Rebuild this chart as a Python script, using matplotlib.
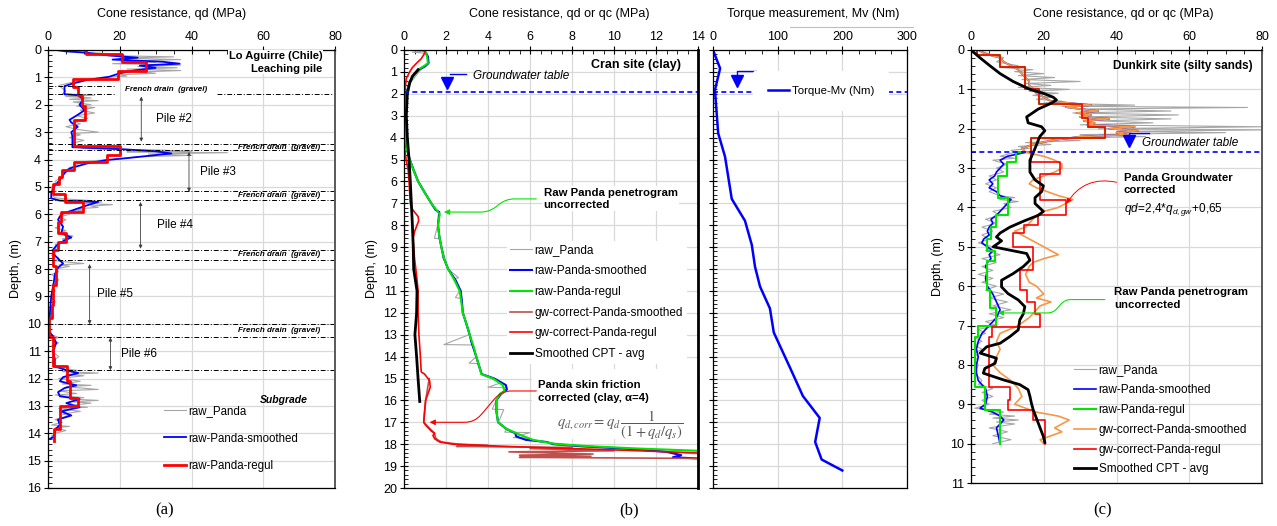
import matplotlib.pyplot as plt
from matplotlib.ticker import MultipleLocator
from matplotlib.lines import Line2D
from matplotlib.patches import Rectangle

plt.rcParams['font.family'] = ['Liberation Sans', 'DejaVu Sans']
plt.rcParams['mathtext.fontset'] = 'custom'
plt.rcParams['mathtext.rm'] = 'Liberation Sans'
plt.rcParams['mathtext.it'] = 'Liberation Sans:italic'
plt.rcParams['mathtext.bf'] = 'Liberation Sans:bold'

GRAY = '#a6a6a6'
BLUE = '#0000ff'
RED = '#ff0000'
GREEN = '#00e600'
BROWN = '#c0504d'
ORANGE = '#f79646'

# ---------------- (a) Lo Aguirre, leaching pile ----------------
a_raw_depth = [0.0, 0.05, 0.1, 0.15, 0.2, 0.25, 0.3, 0.35, 0.4, 0.45, 0.5, 0.55, 0.6, 0.65, 0.7, 0.75, 0.8, 0.85, 0.9, 0.95,
               1.0, 1.05, 1.1, 1.15, 1.2, 1.3, 1.4, 1.5, 1.6, 1.65, 1.7, 1.75, 1.8, 1.85, 1.9, 2.0, 2.05, 2.1, 2.2, 2.3,
               2.4, 2.5, 2.6, 2.7, 2.8, 2.9, 3.0, 3.05, 3.1, 3.2, 3.3, 3.4, 3.5, 3.6, 3.65, 3.7, 3.72, 3.75, 3.8, 3.85,
               3.9, 3.95, 4.0, 4.05, 4.1, 4.2, 4.3, 4.4, 4.5, 4.6, 4.7, 4.8, 4.9, 5.0, 5.1, 5.2, 5.3, 5.4, 5.45, 5.5,
               5.55, 5.6, 5.65, 5.7, 5.75, 5.8, 5.85, 5.9, 6.0, 6.1, 6.2, 6.3, 6.4, 6.5, 6.6, 6.7, 6.8, 6.9, 7.0, 7.1,
               7.2, 7.3, 7.4, 7.5, 7.6, 7.7, 7.8, 7.85, 7.9, 8.0, 8.1, 8.2, 8.4, 8.6, 8.8, 9.0, 9.2, 9.4, 9.6, 9.8,
               10.0, 10.2, 10.4, 10.5, 10.6, 10.7, 10.8, 10.9, 11.0, 11.2, 11.4, 11.6, 11.7, 11.75, 11.8, 11.85, 11.9,
               12.0, 12.1, 12.2, 12.25, 12.3, 12.4, 12.45, 12.55, 12.6, 12.7, 12.75, 12.8, 12.85, 12.9, 13.0, 13.05,
               13.1, 13.2, 13.3, 13.35, 13.5, 13.6, 13.7, 13.75, 13.8, 13.9, 14.0, 14.1, 14.2]
a_raw_qd = [2, 8, 12, 20, 15, 35, 20, 37, 22, 30, 18, 37, 25, 36, 22, 37, 26, 30, 20, 22,
            15, 12, 10, 8, 6, 3, 4, 5, 4, 13, 5, 12, 6, 14, 7, 12, 8, 13, 9, 13,
            8, 11, 7, 9, 5, 8, 14, 7, 9, 6, 10, 7, 7, 10, 30, 40, 22, 50, 28, 40,
            25, 22, 18, 12, 9, 8, 6, 5, 4, 4, 3, 2, 2, 1, 1, 1, 1, 2, 6, 12,
            15, 10, 18, 12, 14, 8, 10, 5, 6, 3, 5, 3, 4, 2, 5, 3, 7, 4, 5, 2,
            3, 1, 2, 1, 3, 2, 10, 3, 6, 2, 3, 1, 3, 1, 2, 1, 2, 1, 1, 0.5,
            0.3, 0.5, 1, 3, 1, 3, 1, 2, 1, 3, 1, 2, 8, 4, 14, 5, 10,
            3, 9, 4, 12, 5, 14, 3, 8, 2, 10, 6, 14, 7, 12, 5, 11,
            3, 9, 4, 6, 2, 4, 1, 6, 2, 5, 2, 1, 1]
a_smooth_depth = [0, 0.05, 0.1, 0.2, 0.28, 0.35, 0.43, 0.5, 0.57, 0.65, 0.75, 0.85, 0.98, 1.1, 1.22, 1.32, 1.62, 1.65,
                  1.8, 2.0, 2.2, 2.4, 2.55, 2.65, 2.8, 3.0, 3.15, 3.55, 3.62, 3.7, 3.78, 3.9, 3.95, 4.02, 4.15, 4.33,
                  4.5, 4.75, 4.95, 5.25, 5.42, 5.5, 5.55, 5.72, 5.85, 6.0, 6.2, 6.45, 6.7, 6.85, 6.95, 7.15, 7.3, 7.5,
                  7.8, 7.95, 8.2, 8.5, 9.0, 9.5, 10.0, 10.3, 10.45, 10.7, 11.0, 11.3, 11.55, 11.7, 11.8, 11.95, 12.1,
                  12.25, 12.35, 12.5, 12.65, 12.75, 12.9, 13.05, 13.2, 13.35, 13.5, 13.7, 13.85, 14.0, 14.15, 14.2]
a_smooth_qd = [2.3, 5, 10.7, 17, 25, 18, 32, 36.7, 25.6, 30, 24, 20, 17, 10.7, 7, 4.6, 4.6, 8.4,
               9.8, 8.8, 10.2, 7.9, 6.0, 6.5, 8.3, 6.5, 6.8, 6.8, 20, 30, 34.4, 25.6, 21.9, 16.3, 10.7, 6.0,
               4.6, 3.3, 1.9, 0.9, 0.9, 3.3, 14, 9.8, 7, 3.7, 2.8, 4.2, 3.7, 6.5, 4.6, 2.3, 1.4, 1.9,
               4.2, 2.8, 1.9, 1.6, 0.9, 0.6, 0.3, 0.3, 1.4, 2.3, 1.4, 1.9, 1.9, 5.1, 8.4, 4.2, 3.3,
               7.9, 4.6, 2.8, 3.3, 8.8, 5.1, 8.8, 3.7, 6.5, 2.8, 3.3, 2.1, 1.9, 1.4, 0.5]
a_regul_bounds = [0, 0.15, 0.45, 0.75, 1.05, 1.35, 1.65, 2.05, 2.55, 3.5, 3.85, 4.1, 4.4, 4.65, 4.9, 5.25, 5.55,
                  5.9, 6.3, 6.7, 7.0, 7.3, 7.9, 8.6, 9.3, 9.8, 10.5, 11.55, 12.1, 12.7, 13.0, 13.85, 14.3]
a_regul_qd = [10.5, 20.7, 27.4, 19.5, 7.0, 8.4, 9.5, 10.2, 7.2, 20.0, 16.5, 7.2, 4.0, 3.1, 1.5, 4.7,
              9.8, 3.7, 2.8, 5.1, 2.8, 1.4, 2.3, 1.5, 1.0, 0.4, 1.5, 5.3, 6.0, 8.4, 3.3, 1.6]
a_drain_top = [1.32, 3.44, 5.15, 7.29, 10.02]
a_drain_bot = [1.59, 3.66, 5.49, 7.67, 10.48]
a_subgrade_top = 11.7
a_pile_names = ['Pile #2', 'Pile #3', 'Pile #4', 'Pile #5', 'Pile #6']
a_pile_from = [1.7, 3.72, 5.55, 7.82, 10.5]
a_pile_to = [3.35, 5.18, 7.26, 10.02, 11.7]

# ---------------- (b) Cran site, clay ----------------
b_raw_depth = [0, 0.05, 0.1, 0.15, 0.3, 0.6, 0.9, 1.5, 2, 3, 4, 4.5, 5, 5.5, 6, 6.5, 7, 7.5, 8, 8.6, 8.62, 9, 9.5,
               10, 10.4, 10.45, 11, 11.3, 11.35, 12, 12.5, 13, 13.45, 13.47, 14, 14.3, 14.32, 14.8, 15.2, 15.4,
               15.42, 15.6, 16, 16.4, 16.42, 17, 17.3, 17.45, 17.47, 17.6, 17.7, 17.72, 17.9, 18.1, 18.3, 18.45]
b_raw_qd = [0.5, 1.0, 0.4, 1.1, 1.1, 1.15, 0.8, 0.3, 0.1, 0.05, 0.08, 0.15, 0.3, 0.5, 0.7, 1.0, 1.3, 1.7, 1.6, 1.45,
            1.7, 1.78, 1.85, 2.1, 2.6, 2.35, 2.65, 2.45, 2.7, 2.8, 2.95, 3.1, 1.9, 3.3, 3.45, 3.1, 3.5, 3.7, 4.6,
            4.0, 4.9, 4.8, 4.4, 4.2, 4.75, 4.5, 4.9, 4.8, 6.0, 5.5, 5.2, 5.8, 6.5, 9.0, 12.0, 14.0]
b_smooth_depth = [0, 0.3, 0.6, 0.75, 0.9, 1.2, 1.5, 2.0, 3.0, 4.0, 4.5, 5.0, 5.5, 6.0, 6.5, 7.0, 7.3, 7.4, 8.0, 8.5,
                  9.0, 9.5, 10.0, 10.5, 11.0, 11.5, 12.0, 12.5, 13.0, 13.3, 14.0, 14.5, 14.8, 15.0, 15.3, 15.5,
                  15.7, 16.0, 16.5, 17.0, 17.3, 17.5, 17.65, 17.8, 17.9, 18.0, 18.1, 18.2, 18.35, 18.5, 18.6, 18.65]
b_smooth_qd = [0.95, 1.14, 1.17, 1.0, 0.7, 0.42, 0.27, 0.1, 0.06, 0.06, 0.13, 0.27, 0.46, 0.67, 0.98, 1.3, 1.5, 1.68,
               1.62, 1.68, 1.78, 1.9, 2.1, 2.45, 2.7, 2.76, 2.8, 2.97, 3.13, 3.2, 3.44, 3.6, 3.7, 4.3, 4.85, 4.9,
               4.6, 4.4, 4.4, 4.48, 4.87, 5.3, 5.35, 5.8, 6.8, 7.1, 8.5, 10.5, 12.5, 13.2, 12.8, 14.0]
b_regul_depth = [0, 0.3, 0.6, 0.7, 0.85, 1.2, 1.5, 2.0, 3.0, 4.0, 4.5, 5.0, 5.5, 6.0, 6.5, 7.0, 7.3, 7.5, 8.0, 8.5,
                 9.0, 9.5, 10.0, 10.5, 11.0, 11.5, 12.0, 12.5, 13.0, 13.5, 14.0, 14.5, 14.8, 15.0, 15.3, 15.6, 15.7,
                 16.0, 16.5, 17.0, 17.3, 17.6, 17.8, 18.0, 18.1, 18.2, 18.3]
b_regul_qd = [0.98, 1.1, 1.14, 1.0, 0.75, 0.43, 0.27, 0.11, 0.06, 0.06, 0.13, 0.27, 0.46, 0.67, 0.98, 1.3, 1.54, 1.7,
              1.62, 1.68, 1.78, 1.9, 2.1, 2.4, 2.65, 2.73, 2.8, 2.97, 3.13, 3.3, 3.44, 3.6, 3.68, 4.24, 4.7, 4.8, 4.56,
              4.4, 4.4, 4.48, 4.87, 5.6, 6.14, 7.25, 9.0, 11.2, 14.0]
b_gwsmooth_depth = [15.0, 16.0, 17.0, 17.5, 17.7, 17.8, 17.9, 18.0, 18.05, 18.1, 18.15, 18.2, 18.3, 18.35, 18.45,
                    18.5, 18.55, 18.6, 18.65]
b_gwsmooth_qd = [1.2, 1.03, 0.94, 1.45, 1.5, 1.6, 1.8, 2.6, 4.0, 2.5, 8.0, 6.0, 10.0, 5.0, 9.0, 5.5, 8.9, 5.5, 14.0]
b_gwregul_depth = [0, 0.2, 0.4, 0.6, 0.8, 1.0, 1.3, 1.8, 2.5, 3.5, 4.0, 4.5, 5.0, 5.5, 6.0, 6.5, 7.0, 7.2, 7.4, 7.6,
                   7.8, 8.0, 8.3, 8.6, 9.0, 9.5, 9.9, 10.5, 11.0, 12.0, 13.0, 14.0, 14.7, 14.8, 15.1, 15.4, 15.7,
                   16.0, 16.5, 17.0, 17.15, 17.4, 17.5, 17.6, 17.75, 17.9, 18.0, 18.1, 18.2, 18.3, 18.4]
b_gwregul_qd = [1.03, 0.95, 0.82, 0.6, 0.4, 0.27, 0.11, 0.05, 0.03, 0.0, 0.0, 0.03, 0.1, 0.2, 0.24, 0.27, 0.3, 0.35,
                0.5, 0.67, 0.7, 0.62, 0.5, 0.43, 0.46, 0.5, 0.55, 0.62, 0.67, 0.67, 0.71, 0.78, 0.82, 0.98, 1.22,
                1.25, 1.14, 1.03, 0.98, 0.94, 1.05, 1.3, 1.46, 1.38, 1.46, 1.7, 2.33, 4.87, 8.05, 11.2, 14.0]
b_cpt_depth = [0.9, 1.2, 1.5, 2.0, 3.0, 4.0, 5.0, 6.0, 7.0, 8.0, 9.0, 10.0, 11.0, 12.0, 13.0, 14.0, 15.0, 16.05]
b_cpt_qc = [0.67, 0.4, 0.27, 0.16, 0.11, 0.16, 0.24, 0.3, 0.35, 0.4, 0.44, 0.46, 0.62, 0.6, 0.52, 0.6, 0.67, 0.75]
b_gw_depth = 1.93

# torque measurement (Cran)
t_depth = [0, 0.84, 1.83, 3.8, 4.87, 6.8, 7.8, 8.9, 9.9, 10.8, 11.8, 12.9, 14.5, 15.8, 16.8, 17.9, 18.7, 19.2]
t_mv = [0, 11, 3, 8, 18.6, 29, 49.5, 60, 65, 72.7, 88, 94, 119, 139, 165, 158, 168, 200]

# ---------------- (c) Dunkirk site, silty sands ----------------
c_raw_depth = [0, 0.1, 0.2, 0.3, 0.4, 0.45, 0.5, 0.55, 0.6, 0.65, 0.7, 0.75, 0.8, 0.85, 0.9, 0.95, 1.0, 1.05, 1.1,
               1.15, 1.2, 1.25, 1.3, 1.35, 1.4, 1.43, 1.46, 1.5, 1.55, 1.6, 1.65, 1.7, 1.75, 1.8, 1.85, 1.9, 1.95,
               2.0, 2.03, 2.07, 2.1, 2.15, 2.2, 2.25, 2.3, 2.35, 2.4, 2.45, 2.5, 2.55, 2.6, 2.7, 2.75, 2.8, 2.9,
               3.0, 3.1, 3.2, 3.3, 3.4, 3.5, 3.6, 3.7, 3.75, 3.8, 3.85, 3.9, 4.0, 4.1, 4.2, 4.3, 4.4, 4.5, 4.6,
               4.7, 4.8, 4.9, 5.0, 5.1, 5.2, 5.3, 5.4, 5.5, 5.6, 5.7, 5.8, 5.9, 6.0, 6.1, 6.2, 6.3, 6.4, 6.5, 6.6,
               6.7, 6.8, 6.9, 7.0, 7.1, 7.2, 7.3, 7.4, 7.5, 7.6, 7.7, 7.8, 7.9, 8.0, 8.2, 8.4, 8.5, 8.6, 8.7, 8.8,
               8.9, 9.0, 9.1, 9.2, 9.25, 9.3, 9.35, 9.4, 9.45, 9.5, 9.6, 9.7, 9.8, 9.9, 10.0]
c_raw_qd = [2, 5, 9, 7, 13, 9, 17, 12, 20, 13, 23, 14, 30, 15, 22, 13, 27, 16, 24,
            17, 22, 18, 25, 20, 45, 25, 76, 30, 55, 28, 57, 30, 55, 35, 50, 30, 80,
            35, 80, 40, 70, 30, 48, 20, 30, 15, 22, 13, 16, 11, 12, 8, 12, 6, 10,
            7, 9, 5, 7, 4, 7, 5, 8, 12, 8, 13, 9, 11, 6, 8, 4, 7, 3, 6,
            3, 5, 2, 6, 4, 8, 3, 7, 3, 6, 2, 6, 3, 7, 4, 9, 5, 10, 6, 11,
            5, 9, 4, 7, 2, 4, 1, 3, 1, 3, 1, 2, 1, 2, 1, 3, 2, 6, 3, 6,
            3, 5, 1, 9, 5, 12, 6, 13, 7, 12, 5, 10, 6, 11, 6]
# smoothed profile above the water table (raw and corrected coincide there)
c_smooth_up_depth = [0, 0.1, 0.2, 0.3, 0.4, 0.5, 0.6, 0.7, 0.8, 0.9, 1.0, 1.1, 1.2, 1.3, 1.4, 1.45, 1.5, 1.55, 1.6,
                     1.65, 1.7, 1.75, 1.8, 1.85, 1.9, 1.95, 2.0, 2.05, 2.1, 2.15, 2.2, 2.3, 2.4, 2.5, 2.6]
c_smooth_up_qd = [2, 4, 8, 9, 11, 13, 14, 15, 16, 16, 17, 18, 20, 22, 33, 26, 30, 35, 29,
                  33, 30, 38, 31, 34, 32, 45, 38, 46, 40, 43, 30, 22, 17, 14, 15]
c_gwsmooth_low_depth = [2.7, 2.8, 2.9, 3.0, 3.1, 3.2, 3.3, 3.4, 3.5, 3.6, 3.7, 3.8, 3.9, 4.0, 4.1, 4.2, 4.3, 4.4,
                        4.5, 4.6, 4.7, 4.8, 4.9, 5.0, 5.1, 5.2, 5.3, 5.4, 5.5, 5.7, 5.9, 6.0, 6.2, 6.3, 6.4, 6.5,
                        6.6, 6.8, 7.0, 7.2, 7.4, 7.6, 7.8, 8.0, 8.2, 8.4, 8.6, 8.8, 9.0, 9.2, 9.3, 9.4, 9.5, 9.6,
                        9.7, 9.8, 9.9, 10.0]
c_gwsmooth_low_qd = [20, 23, 25, 25, 23, 20, 17, 16, 18, 21, 24, 28, 26, 24, 20, 18, 17, 16,
                     15, 12, 14, 16, 18, 20, 22, 24, 20, 17, 16, 15, 16, 18, 20, 18, 22, 19,
                     18, 16, 13, 8, 7, 8, 7, 6, 8, 11, 13, 14, 12, 18, 24, 27, 25, 23,
                     25, 22, 19, 20]
c_smooth_low_depth = [2.7, 2.8, 2.9, 3.0, 3.1, 3.2, 3.3, 3.4, 3.5, 3.6, 3.7, 3.8, 3.9, 4.0, 4.1, 4.2, 4.3, 4.4, 4.5,
                      4.6, 4.7, 4.8, 4.9, 5.0, 5.1, 5.2, 5.3, 5.4, 5.5, 5.6, 5.8, 6.0, 6.2, 6.4, 6.6, 6.8, 7.0, 7.2,
                      7.4, 7.6, 7.8, 8.0, 8.2, 8.4, 8.6, 8.8, 9.0, 9.1, 9.2, 9.3, 9.4, 9.5, 9.6, 9.8, 10.0]
c_smooth_low_qd = [10, 8, 9, 8, 7, 6.5, 5, 6, 5, 7, 8, 11, 10, 9, 8, 7, 5.5, 6, 5,
                   4.5, 5, 3.5, 3, 4.5, 6, 5, 5.5, 4.5, 4, 4.5, 4, 4.5, 6, 7, 8, 7, 5, 3,
                   2, 1.5, 2, 1.5, 1.5, 2, 4, 4.5, 4, 2.5, 6, 8, 9, 8, 7, 7.5, 8]
c_gwregul_bounds = [0, 0.13, 0.43, 1.0, 1.36, 1.74, 1.96, 2.24, 2.85, 3.15, 3.8, 4.2, 4.45, 4.65, 5.0, 5.6, 6.1,
                    6.4, 6.7, 7.03, 7.3, 8.55, 8.9, 9.15, 9.4, 10.0]
c_gwregul_qd = [1.6, 8.0, 14.8, 18.6, 30.6, 32.2, 36.9, 16.5, 24.5, 19.0, 26.0, 18.5, 14.5, 11.6, 17.1, 13.4,
                15.3, 17.6, 19.0, 5.7, 5.0, 10.7, 10.2, 17.1, 20.3]
c_regul_bounds = [0, 0.13, 0.43, 1.0, 1.36, 1.74, 1.96, 2.24, 2.6, 2.85, 3.2, 3.75, 4.2, 4.5, 4.8, 5.1, 5.35, 6.1,
                  6.55, 7.0, 7.3, 8.55, 9.15, 10.0]
c_regul_qd = [1.6, 8.0, 14.8, 18.6, 30.6, 32.2, 36.9, 16.5, 12.5, 9.8, 7.5, 10.2, 7.0, 5.5, 4.3, 6.6, 4.3, 5.2,
              7.0, 2.0, 1.2, 3.8, 8.0]
c_cpt_depth = [0, 0.2, 0.4, 0.6, 0.8, 1.0, 1.1, 1.2, 1.27, 1.35, 1.5, 1.7, 1.85, 1.95, 2.05, 2.2, 2.5, 2.8, 3.1,
               3.3, 3.45, 3.6, 3.75, 3.9, 4.1, 4.2, 4.35, 4.5, 4.65, 4.75, 4.85, 5.0, 5.17, 5.34, 5.5, 5.68, 5.85,
               6.02, 6.19, 6.35, 6.52, 6.7, 6.86, 7.11, 7.28, 7.45, 7.54, 7.7, 7.83, 7.96, 8.09, 8.21, 8.38, 8.5,
               8.63, 8.8, 8.97, 9.14, 9.48, 9.82, 9.97]
c_cpt_qc = [0, 2.5, 5.2, 8, 11.6, 16.2, 19.9, 22.6, 23.5, 22.1, 18.5, 15.3, 15.7, 19.4, 20.3, 18.9, 17.6, 16.2, 16.2,
            17.6, 19.9, 19.4, 17.6, 17.6, 19.9, 18.5, 14.4, 10.7, 8, 7, 8.4, 6.1, 15.3, 16.2, 14.4, 11.6, 8.4,
            8.4, 10.2, 13, 14.8, 14.4, 13.4, 13.0, 10.7, 8, 4.3, 2.5, 7, 6.6, 3.8, 3.4, 8.9, 13.4,
            15.7, 16.2, 16.6, 17.1, 18.5, 19.9, 20.3]
c_gw_depth = 2.59


def steps(bounds, vals):
    xs, ys = [], []
    for i, v in enumerate(vals):
        xs += [v, v]
        ys += [bounds[i], bounds[i + 1]]
    return xs, ys


def frame(ax, xmax, xmaj, xmin, ymax, xlabel, label_x, ylabels=True):
    ax.set_xlim(0, xmax)
    ax.set_ylim(ymax, 0)
    ax.xaxis.set_label_position('top')
    ax.set_xlabel(xlabel, fontsize=9)
    ax.xaxis.set_label_coords(label_x, 1 + 36 / 438)
    ax.xaxis.label.set_va('center')
    ax.xaxis.set_major_locator(MultipleLocator(xmaj))
    ax.xaxis.set_minor_locator(MultipleLocator(xmin))
    ax.yaxis.set_major_locator(MultipleLocator(1))
    ax.yaxis.set_minor_locator(MultipleLocator(0.2))
    ax.tick_params(which='both', top=True, bottom=False, labeltop=True, labelbottom=False,
                   left=True, right=False, labelleft=ylabels)
    ax.tick_params(which='major', direction='inout', length=6, width=0.8, labelsize=9, pad=2)
    ax.tick_params(which='minor', direction='in', length=3, width=0.6)
    ax.grid(True, which='major', color='#d9d9d9', lw=0.9)
    ax.set_axisbelow(True)
    for s in ax.spines.values():
        s.set_linewidth(0.9)
    ax.spines['right'].set_color('#595959')
    ax.spines['right'].set_linewidth(1.4)
    if ylabels:
        ax.set_ylabel('Depth, (m)', fontsize=9, labelpad=4)


W, H = 1277, 526
fig = plt.figure(figsize=(W / 100, H / 100), dpi=100)
ax_a = fig.add_axes([48 / W, 1 - 488 / H, 287 / W, 438 / H])
ax_b = fig.add_axes([404 / W, 1 - 488 / H, 294 / W, 438 / H])
ax_t = fig.add_axes([713 / W, 1 - 488 / H, 194 / W, 438 / H])
ax_c = fig.add_axes([971 / W, 1 - 483 / H, 291 / W, 433 / H])

# ---------- (a) ----------
ax = ax_a
frame(ax, 80, 20, 5, 16, 'Cone resistance, qd (MPa)', 0.43)
ax.plot(a_raw_qd, a_raw_depth, color=GRAY, lw=0.8, label='raw_Panda')
ax.plot(a_smooth_qd, a_smooth_depth, color=BLUE, lw=1.3, label='raw-Panda-smoothed')
xs, ys = steps(a_regul_bounds, a_regul_qd)
ax.plot(xs, ys, color=RED, lw=2, label='raw-Panda-regul')
ls = (0, (5, 2, 1, 2))
for i, (top, bot) in enumerate(zip(a_drain_top, a_drain_bot)):
    if i == 0:
        ax.plot([0, 18.6], [top, top], color='k', lw=0.7, ls=ls)
        ax.plot([0, 18.6], [bot, bot], color='k', lw=0.7, ls=ls)
        ax.plot([47, 80], [bot, bot], color='k', lw=0.7, ls=ls)
        ax.text(33, (top + bot) / 2, 'French drain  (gravel)', fontsize=5.8, weight='bold', style='italic',
                ha='center', va='center')
    else:
        ax.plot([0, 80], [top, top], color='k', lw=0.7, ls=ls)
        ax.plot([0, 80], [bot, bot], color='k', lw=0.7, ls=ls)
        ax.text(64.5, (top + bot) / 2, 'French drain  (gravel)', fontsize=5.8, weight='bold', style='italic',
                ha='center', va='center')
ax.plot([0, 80], [a_subgrade_top, a_subgrade_top], color='k', lw=0.7, ls=ls)
pile_x = [26, 39.3, 25.8, 11.6, 17.4]
pile_lab_x = [35, 47.4, 35.3, 18.8, 25.3]
for name, d0, d1, px, lx in zip(a_pile_names, a_pile_from, a_pile_to, pile_x, pile_lab_x):
    ax.annotate('', xy=(px, d1), xytext=(px, d0),
                arrowprops=dict(arrowstyle='<|-|>', color='#404040', lw=0.6, mutation_scale=5,
                                shrinkA=0, shrinkB=0))
    ax.text(lx, (d0 + d1) / 2, name, fontsize=8.5, ha='center', va='center')
ax.text(76.5, 0.45, 'Lo Aguirre (Chile)\nLeaching pile', fontsize=8, weight='bold', ha='right', va='center',
        linespacing=1.3, bbox=dict(facecolor='white', edgecolor='none', pad=0.5))
ax.text(65.8, 12.8, 'Subgrade', fontsize=7.5, weight='bold', style='italic', ha='center', va='center')
ax.legend(loc='center left', bbox_to_anchor=(0.405, 0.113), frameon=False, fontsize=8.3, handlelength=1.9,
          handletextpad=0.2, labelspacing=1.32, borderpad=0, borderaxespad=0)

# ---------- (b) ----------
ax = ax_b
frame(ax, 14, 2, 0.5, 20, 'Cone resistance, qd or qc (MPa)', 0.527)
ax.spines['right'].set_color('k')
ax.spines['right'].set_linewidth(2)
ax.add_patch(Rectangle((6.1, 14.55), 7.85, 3.2, facecolor='white', edgecolor='none', zorder=1))
ax.plot(b_raw_qd, b_raw_depth, color=GRAY, lw=0.8, label='raw_Panda', zorder=2)
ax.plot(b_smooth_qd, b_smooth_depth, color=BLUE, lw=1.5, label='raw-Panda-smoothed', zorder=2)
ax.plot(b_regul_qd, b_regul_depth, color=GREEN, lw=1.5, label='raw-Panda-regul', zorder=2)
ax.plot(b_gwsmooth_qd, b_gwsmooth_depth, color=BROWN, lw=1.2, label='gw-correct-Panda-smoothed', zorder=2)
ax.plot(b_gwregul_qd, b_gwregul_depth, color=RED, lw=1.2, label='gw-correct-Panda-regul', zorder=2)
ax.plot(b_cpt_qc, b_cpt_depth, color='k', lw=2, label='Smoothed CPT - avg', zorder=2)
ax.axhline(b_gw_depth, color=BLUE, lw=1.2, ls=(0, (3, 2)), zorder=2)
ax.plot([2.05], [1.5], marker='v', ms=9, color=BLUE, zorder=3)
ax.plot([2.2, 2.95], [1.08, 1.08], color=BLUE, lw=1)
ax.text(3.3, 1.18, 'Groundwater table', fontsize=8.5, style='italic', va='center')
ax.text(13.2, 0.68, 'Cran site (clay)', fontsize=9, weight='bold', ha='right', va='center')
ax.text(6.65, 6.8, 'Raw Panda penetrogram\nuncorrected', fontsize=8.2, weight='bold', va='center',
        linespacing=1.3, bbox=dict(facecolor='white', edgecolor='none', pad=1))
ax.annotate('', xy=(1.9, 7.4), xytext=(6.3, 6.8),
            arrowprops=dict(arrowstyle='-|>', color=GREEN, lw=0.8, mutation_scale=8, shrinkA=0, shrinkB=0,
                            connectionstyle='arc,angleA=180,angleB=0,armA=30,armB=45,rad=8'))
ax.text(6.4, 15.6, 'Panda skin friction\ncorrected (clay, α=4)', fontsize=8.2, weight='bold', va='center',
        linespacing=1.3)
ax.annotate('', xy=(1.22, 17.0), xytext=(6.3, 15.57),
            arrowprops=dict(arrowstyle='-|>', color=RED, lw=0.8, mutation_scale=8, shrinkA=0, shrinkB=0,
                            connectionstyle='arc,angleA=180,angleB=0,armA=35,armB=45,rad=10'))
ax.text(10.3, 17.15, r'$q_{d,corr} = q_d\,\dfrac{1}{(1+q_d/q_s)}$', fontsize=10.5, color='#595959',
        ha='center', va='center', math_fontfamily='stix')
ax.legend(loc='center left', bbox_to_anchor=(0.35, 0.424), frameon=True, facecolor='white', edgecolor='none',
          framealpha=1, fontsize=8.5, handlelength=1.85, handletextpad=0.2, labelspacing=0.74,
          borderpad=0.3, borderaxespad=0)

# ---------- torque ----------
ax = ax_t
frame(ax, 300, 100, 25, 20, 'Torque measurement, Mv (Nm)', 0.515, ylabels=False)
ax.spines['right'].set_color('k')
ax.spines['right'].set_linewidth(0.9)
ax.plot(t_mv, t_depth, color=BLUE, lw=1.8, label='Torque-Mv (Nm)')
ax.axhline(b_gw_depth, color=BLUE, lw=1.2, ls=(0, (3, 2)))
ax.plot([36.6], [1.4], marker='v', ms=9, color=BLUE, zorder=3)
ax.plot([36.6, 36.6, 66], [1.35, 0.96, 0.96], color=BLUE, lw=1)
ax.legend(loc='center', bbox_to_anchor=(0.556, 0.906), frameon=True, facecolor='white', edgecolor='none',
          framealpha=1, fontsize=8.2, handlelength=1.9, handletextpad=0.2, borderpad=1.3, borderaxespad=0)
fig.add_artist(Line2D([790 / W, 913 / W], [1 - 27 / H, 1 - 27 / H], color='#bfbfbf', lw=0.8))

# ---------- (c) ----------
ax = ax_c
frame(ax, 80, 20, 5, 11, 'Cone resistance, qd or qc (MPa)', 0.524)
ax.xaxis.set_label_coords(0.524, 1 + 36 / 433)
ax.plot(c_raw_qd, c_raw_depth, color=GRAY, lw=0.8, label='raw_Panda')
ax.plot(c_smooth_up_qd + c_smooth_low_qd, c_smooth_up_depth + c_smooth_low_depth, color=BLUE, lw=1.2,
        label='raw-Panda-smoothed')
xs, ys = steps(c_regul_bounds, c_regul_qd)
ax.plot(xs, ys, color=GREEN, lw=1.5, label='raw-Panda-regul')
ax.plot(c_smooth_up_qd + c_gwsmooth_low_qd, c_smooth_up_depth + c_gwsmooth_low_depth, color=ORANGE, lw=1.2,
        label='gw-correct-Panda-smoothed')
xs, ys = steps(c_gwregul_bounds, c_gwregul_qd)
ax.plot(xs, ys, color=RED, lw=1.2, label='gw-correct-Panda-regul')
ax.plot(c_cpt_qc, c_cpt_depth, color='k', lw=2, label='Smoothed CPT - avg')
ax.axhline(c_gw_depth, color=BLUE, lw=1.2, ls=(0, (3, 2)))
ax.plot([43.5], [2.3], marker='v', ms=9, color=BLUE, zorder=3)
ax.plot([43.5, 43.5, 49], [2.2, 2.1, 2.1], color=BLUE, lw=1)
ax.text(47.1, 2.36, 'Groundwater table', fontsize=8.5, style='italic', va='center')
ax.text(77.5, 0.4, 'Dunkirk site (silty sands)', fontsize=8.5, weight='bold', ha='right', va='center')
ax.text(42, 3.4, 'Panda Groundwater\ncorrected', fontsize=8.2, weight='bold', va='center', linespacing=1.3)
ax.text(42, 4.04, r'$\mathit{qd\!=\!2{,}4{*}q_{d,gw}\!+\!0{,}65}$', fontsize=8.5, va='center')
ax.annotate('', xy=(26.3, 3.9), xytext=(40, 3.36),
            arrowprops=dict(arrowstyle='-|>', color=RED, lw=0.7, mutation_scale=7, shrinkA=0, shrinkB=0,
                            connectionstyle='arc3,rad=0.35'))
ax.text(39.3, 6.31, 'Raw Panda penetrogram\nuncorrected', fontsize=8.2, weight='bold', va='center',
        linespacing=1.3)
ax.annotate('', xy=(7.5, 6.68), xytext=(36.8, 6.34),
            arrowprops=dict(arrowstyle='-|>', color=GREEN, lw=0.8, mutation_scale=7, shrinkA=0, shrinkB=0,
                            connectionstyle='arc,angleA=180,angleB=0,armA=40,armB=55,rad=6'))
ax.legend(loc='center left', bbox_to_anchor=(0.355, 0.1455), frameon=False, fontsize=8.5, handlelength=1.85,
          handletextpad=0.2, labelspacing=0.66, borderpad=0, borderaxespad=0)

for x, lab in [(165, '(a)'), (629, '(b)'), (1103, '(c)')]:
    fig.text(x / W, 1 - 510 / H, lab, fontsize=12, family='Liberation Serif', ha='center', va='center')

fig.savefig('out.png', dpi=100, facecolor='white')
